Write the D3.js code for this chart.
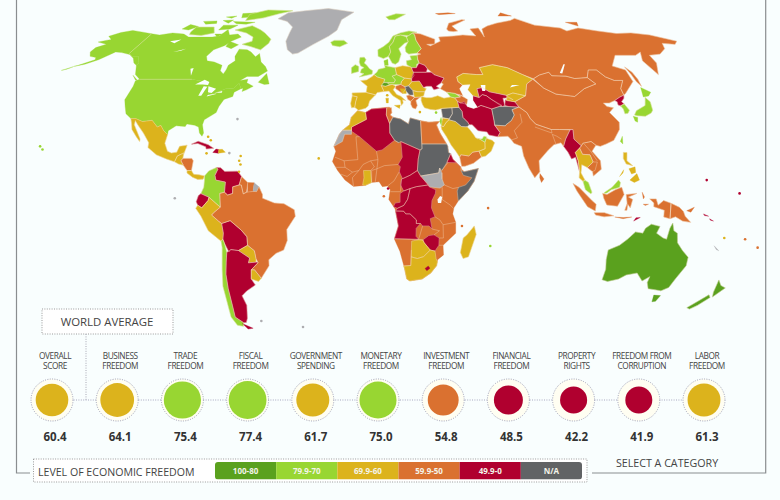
<!DOCTYPE html>
<html>
<head>
<meta charset="utf-8">
<script src="https://cdnjs.cloudflare.com/ajax/libs/d3/7.8.5/d3.min.js"></script>
<style>
html, body { margin: 0; padding: 0; background: #f9fefe; }
svg { display: block; font-family: "Open Sans", sans-serif; }
</style>
</head>
<body>
<svg id="chart" width="780" height="500"></svg>
<script>
// average scores
var categories = [["OVERALL","SCORE"],["BUSINESS","FREEDOM"],["TRADE","FREEDOM"],["FISCAL","FREEDOM"],["GOVERNMENT","SPENDING"],["MONETARY","FREEDOM"],["INVESTMENT","FREEDOM"],["FINANCIAL","FREEDOM"],["PROPERTY","RIGHTS"],["FREEDOM FROM","CORRUPTION"],["LABOR","FREEDOM"]];
var scores = [60.4,64.1,75.4,77.4,61.7,75.0,54.8,48.5,42.2,41.9,61.3];
var bandLabels = ["100-80","79.9-70","69.9-60","59.9-50","49.9-0","N/A"];
var bandColors = ["#5aa11e","#98d632","#dcb31c","#da7130","#b0002f","#616365","#adadb0"];
// robinson table
var robLat = [0,5,10,15,20,25,30,35,40,45,50,55,60,65,70,75,80,85,90];
var robLen = [1,.9986,.9954,.99,.9822,.973,.96,.9427,.9216,.8962,.8679,.835,.7986,.7597,.7186,.6732,.6213,.5722,.5322];
var robDep = [0,.062,.124,.186,.248,.31,.372,.434,.4958,.5571,.6176,.6769,.7346,.7903,.8435,.8936,.9394,.9761,1];

// map shapes: name, band index (0-4 score, 5 n/a, 6 no data), ring of lon/lat
var northAmerica = [
["Canada",1,[[-141,69.6],[-135,69],[-128,70],[-120,69.5],[-115,68],[-108,68],[-100,68],[-96,68.5],[-94,71.8],[-90,69],[-85,69.5],[-81.5,68],[-86,66],[-88,64],[-93,62],[-94.5,59],[-92.5,57],[-88,56.5],[-82.5,55],[-82,52.7],[-79.5,51.3],[-79,53],[-79,55],[-76.5,57],[-78,59],[-78,62.3],[-73,62],[-70,61],[-66,58.8],[-64.5,60.3],[-61.5,56.5],[-58,54.5],[-56,52.5],[-60,50.2],[-66,50.2],[-69,48.5],[-65,49],[-65,47.5],[-61,46],[-64,44.5],[-66,43.8],[-66,45.2],[-67,45],[-69,47.3],[-71,45.2],[-75,45],[-79,43.5],[-83,42],[-82.5,45.5],[-88,48],[-95,49],[-123,49],[-127,51],[-130,54.5],[-130.5,55],[-130.2,56],[-134,59],[-137.5,59],[-141,60.3]]],
["Alaska",1,[[-141,69.6],[-148,70.4],[-156.5,71.3],[-162,70.2],[-166.5,68.4],[-162,66.8],[-164,66.5],[-168,65.6],[-161,64.5],[-165,63],[-165,61],[-162,59],[-158,58.5],[-157,57.5],[-163,55],[-165,54.5],[-160,55.5],[-155,57.5],[-152,59.5],[-150,61],[-146,60.7],[-140,59.8],[-136,58.2],[-133,56],[-130.5,55],[-130.2,56],[-134,59],[-137.5,59],[-141,60.3]]],
["Aleutians",1,[[-165,54.4],[-169.5,52.8],[-167,53.4]]],
["USA",1,[[-123,49],[-95,49],[-88,48],[-84,46.5],[-82.5,45.5],[-83,42],[-79,43.5],[-75,45],[-71,45.2],[-69,47.3],[-67,45],[-70,43.5],[-70,41.7],[-74,40.5],[-75.5,37.5],[-76,35],[-81,32],[-81.3,30],[-80,26.5],[-80.5,25.2],[-82,26.5],[-83,29],[-85,29.7],[-89,30.3],[-89.5,29.2],[-94,29.5],[-97.3,27.5],[-97.2,25.9],[-99.5,27.5],[-101.5,29.7],[-103,29],[-106.5,31.8],[-111,31.3],[-114.8,32.5],[-117.2,32.5],[-120.5,34.5],[-122.5,37.5],[-124.3,40.3],[-124,46],[-124.7,48.3]]],
["Baffin",1,[[-80,73.7],[-72,71.5],[-68,70],[-62,67],[-62,65],[-65,62],[-72,63.5],[-78,64.5],[-73,66],[-74,68],[-80,70],[-89,71.5]]],
["Victoria",1,[[-117,73],[-105,73],[-101,70],[-108,68.8],[-116,69.2],[-117,70.5]]],
["Banks",1,[[-125,72],[-123,74.3],[-116,73.3],[-120,71.5]]],
["Ellesmere",1,[[-90,80],[-80,83],[-60,82.5],[-68,80.5],[-77,78],[-88,76.5]]],
["Devon",1,[[-96,76],[-80,75.5],[-85,74.5],[-92,74.7]]],
["Melville",1,[[-117,76],[-108,76.3],[-106,74.9],[-113,74.5]]],
["Axel Heiberg",1,[[-96,80.5],[-87,81],[-87,78.5],[-93,78]]],
["Somerset",1,[[-100,74],[-90,74],[-93,72],[-100,71.5]]],
["Ellef Ringnes",1,[[-105,78.5],[-98,79],[-100,77.8]]],
["Bathurst",1,[[-104,76.5],[-97,76.8],[-98,75]]],
["King William",1,[[-100,69.5],[-95,69.5],[-97,68]]],
["Southampton",1,[[-87,66],[-80,64.3],[-83,62.5],[-87,63.5]]],
["Newfoundland",1,[[-59,47.7],[-56,51.5],[-53,47],[-55.5,46.8]]],
["Vancouver",1,[[-128,50.7],[-123.5,48.4],[-125,48.7]]],
["Greenland",6,[[-66,77.5],[-62,81],[-50,82.5],[-33,84],[-20,82.5],[-12,81.5],[-20,77],[-21.5,71.4],[-26,68.5],[-34.4,64.5],[-42,60.5],[-45,60],[-49,62],[-52,66],[-52,70],[-52,73],[-58,76]]],
["Mexico",2,[[-117.2,32.5],[-114.8,32.5],[-111,31.3],[-106.5,31.8],[-103,29],[-101.5,29.7],[-99.5,27.5],[-97.2,25.9],[-97.8,22.3],[-96,19],[-94,18.2],[-91.5,18.6],[-90.5,21],[-87,21.5],[-88,18],[-89.2,17.8],[-91,17],[-92,14.6],[-96,15.8],[-101,17.5],[-105.5,20.5],[-105.5,22.5],[-109,26.5],[-112.8,30],[-114.7,31.7],[-114.5,30],[-110,24],[-110,23],[-112,25],[-115,28],[-116,30.5]]],
["Guatemala",2,[[-92,14.6],[-91,17],[-89.2,17.8],[-88,18.4],[-88.3,16],[-89,15],[-87.7,13.2],[-90,13.7]]],
["Honduras",3,[[-89,15],[-88.3,16],[-84,16],[-83.2,15],[-83.7,11],[-85.7,11],[-87.7,13.2]]],
["Panama",2,[[-83.7,11],[-82.5,9.4],[-80,9.2],[-77.4,8.7],[-78,7.4],[-80.5,7.3],[-83,8.2],[-85.7,10],[-85.7,11]]],
["Cuba",4,[[-85,21.9],[-82,23.1],[-77,21.7],[-74.2,20.2],[-77.7,19.9],[-78,20.8],[-82,22.2]]],
["Haiti",4,[[-74.4,18.5],[-73,19.9],[-71.7,19.7],[-71.7,18.1]]],
["Dominican Rep",2,[[-71.7,19.7],[-70,19.8],[-68.4,18.6],[-71.7,18.1]]]
];
var southAmerica = [
["Colombia",1,[[-77.4,8.7],[-75.5,10.8],[-72,12.2],[-71.3,11.5],[-72.5,9],[-72,7],[-67.5,6.2],[-67.8,2],[-70,1.5],[-69.8,-4.2],[-72,-2.5],[-75,-0.1],[-78.8,1.4],[-77.5,4],[-77.3,7]]],
["Venezuela",4,[[-72,12.2],[-70,12.1],[-68,10.6],[-62,10.7],[-60,8.5],[-61,5],[-64,4.2],[-64,1.5],[-66.3,0.8],[-67.8,2],[-67.5,6.2],[-72,7],[-72.5,9],[-71.3,11.5]]],
["Guyana",3,[[-60,8.5],[-57,6],[-57.5,2],[-59,1.3],[-60,5],[-61,5]]],
["Suriname",3,[[-57,6],[-54,5.9],[-54.5,2.3],[-57,2]]],
["French Guiana",6,[[-54,5.9],[-51.7,4.2],[-52.8,2.2],[-54.5,2.3]]],
["Ecuador",4,[[-78.8,1.4],[-75,-0.1],[-75.5,-1.5],[-78.5,-4.5],[-80.3,-3.4],[-81,-2],[-80,0.5]]],
["Peru",2,[[-81.3,-4.7],[-80.3,-3.4],[-78.5,-4.5],[-75.5,-1.5],[-75,-0.1],[-72,-2.5],[-69.8,-4.2],[-73,-6.5],[-74,-7.5],[-71,-9.9],[-69.5,-11],[-69,-15],[-69.5,-17.5],[-70.4,-18.3],[-76,-14],[-79,-8]]],
["Bolivia",4,[[-69.5,-11],[-65.4,-9.8],[-60.5,-13.7],[-58,-16.5],[-58,-20],[-62.6,-22.2],[-66.2,-21.8],[-67.2,-22.8],[-69,-19],[-69.5,-17.5],[-69,-15]]],
["Paraguay",2,[[-58,-20],[-55,-22.3],[-54.6,-25.5],[-54.8,-27],[-58.5,-27.3],[-57.6,-25.3],[-62.6,-22.2]]],
["Chile",1,[[-70.4,-18.3],[-69.5,-17.5],[-69,-19],[-68.3,-23],[-69.2,-27],[-70.4,-32],[-71,-38],[-71.5,-45],[-72.3,-50],[-69,-52.4],[-70,-54],[-73,-53.5],[-74.5,-50],[-73.5,-42],[-73.3,-37],[-71.7,-30],[-70.2,-21]]],
["Argentina",4,[[-66.2,-21.8],[-62.6,-22.2],[-57.6,-25.3],[-58.5,-27.3],[-54.8,-27],[-53.8,-27.2],[-57.6,-30.2],[-58.4,-34],[-57,-36.5],[-62,-39],[-65,-41],[-64,-45],[-66,-50.5],[-67.5,-52.3],[-69,-52.4],[-72.3,-50],[-71.5,-45],[-71,-38],[-70.4,-32],[-69.2,-27],[-68.3,-23]]],
["Tierra del Fuego",4,[[-70,-52.8],[-65,-54.8],[-68,-55.2]]],
["Uruguay",2,[[-58.4,-34],[-57.6,-30.2],[-56,-30.2],[-53.4,-33.7],[-55,-35]]],
["Brazil",3,[[-60,5],[-59,1.3],[-57.5,2],[-54.5,2.3],[-52.8,2.2],[-51.7,4.2],[-50,1],[-50,-0.5],[-44.5,-2.5],[-40,-2.8],[-35.2,-5.3],[-34.8,-8],[-39,-13.5],[-39,-18],[-41,-22],[-44.7,-23.3],[-48.5,-26],[-48.7,-28.5],[-53.4,-33.7],[-56,-30.2],[-57.6,-30.2],[-53.8,-27.2],[-54.6,-25.5],[-55,-22.3],[-58,-20],[-58,-16.5],[-60.5,-13.7],[-65.4,-9.8],[-69.5,-11],[-71,-9.9],[-74,-7.5],[-73,-6.5],[-69.8,-4.2],[-70,1.5],[-67.8,2],[-66.3,0.8],[-64,1.5],[-64,4.2],[-61,5]]]
];
var africa = [
["Africa rest",3,[[-5.9,35.8],[-2,35],[1,36.5],[10,37.3],[11,35],[10.2,34],[11.5,33.1],[15.3,32.3],[19,30.3],[20,32.8],[25,31.6],[29,31],[32.3,31.2],[34.2,31.3],[32.6,29.9],[34,26.5],[36,23],[37.3,21],[37.5,18.5],[39.5,15.5],[43,12.5],[43.3,11.5],[44.5,10.5],[51.2,11.8],[49,6.5],[46,2.5],[41.5,-1.7],[39.5,-4.5],[39,-7],[40.5,-10.5],[40.7,-15],[35,-20],[35.5,-24],[32.8,-26],[32.5,-28.5],[30,-31.5],[26,-34],[20,-34.8],[18.4,-34],[17,-29.5],[14.5,-22.5],[11.8,-17.5],[13.6,-12],[12,-5],[9,-1],[9.7,3],[8.5,4.6],[6,4.3],[4.5,6.3],[1,6],[-2,4.8],[-7.5,4.4],[-11.5,7],[-15,11],[-17.5,14.7],[-16,19],[-17,21],[-14.5,26],[-13,27.7],[-9.7,30],[-9,33]]],
["Algeria",4,[[-2,35],[1,36.5],[8.6,37],[8.3,34],[9.8,30.5],[9.8,26.5],[12,23.5],[6,19.5],[3.3,19],[-4.8,25],[-8.7,27.3],[-8.7,29],[-1.5,32.2]]],
["Morocco",2,[[-5.9,35.8],[-2,35],[-1.5,32.2],[-8.7,29],[-8.7,27.7],[-13,27.7],[-9.7,30],[-9,33]]],
["Western Sahara",6,[[-13,27.7],[-8.7,27.7],[-8.7,26],[-12,26],[-13,23],[-17,21],[-14.5,26]]],
["Tunisia",3,[[8.6,37],[11,37],[11,35],[10.2,34],[11.5,33.1],[9.8,30.5],[8.3,34]]],
["Libya",5,[[11.5,33.1],[15.3,32.3],[19,30.3],[20,32.8],[25,31.6],[25,20],[24,19.5],[15,23],[14,22.5],[12,23.5],[9.8,26.5],[9.8,30.5]]],
["Egypt",3,[[25,31.6],[29,31],[32.3,31.2],[34.2,31.3],[32.6,29.9],[34,26.5],[36.9,22],[25,22]]],
["Sudan",5,[[24,19.5],[25,20],[25,22],[36.9,22],[37.3,21],[37.5,18.5],[38.5,18],[36.5,14.3],[34,11],[33,12],[32.5,10],[28,9.3],[24,8.7],[22.5,11],[23,15.7]]],
["South Sudan",6,[[24,8.7],[28,9.3],[32.5,10],[33,12],[34,10],[34,7.5],[35,5],[33,3.7],[28,4.2],[27.5,5]]],
["Chad",4,[[15,23],[24,19.5],[23,15.7],[22.5,11],[19,9],[15.5,7.5],[14,10.5],[14.5,12.5],[13.5,13.5],[15.5,16.5]]],
["CAR",4,[[15,7.5],[19,9],[22.5,11],[24,8.7],[27.5,5],[22,4.3],[19,3.5],[16,2.5],[14.5,5]]],
["DR Congo",4,[[12.2,-5.8],[16,-5.9],[17,-7],[19,-7],[22,-9.5],[22,-11],[24,-11],[25,-12],[28,-12],[29.5,-13.3],[28.5,-9],[30.7,-8.2],[29,-4.5],[29.2,-1.5],[30.8,1.5],[31,3],[28,4.2],[27.5,5],[22,4.3],[19,3.5],[17.8,-1],[16,-3.5],[13,-4.7]]],
["Congo",4,[[11.2,-4],[13,-4.7],[16,-3.5],[17.8,-1],[19,3.5],[16,2.5],[14.3,1.5],[14.3,-2.2],[12,-2.5]]],
["Angola",4,[[11.8,-17.3],[13.6,-12],[12.2,-5.8],[16,-5.9],[17,-7],[19,-7],[22,-9.5],[22,-11],[24,-11],[22,-13],[22,-16.3],[23.3,-17.5],[18.5,-17.4]]],
["Zimbabwe",4,[[25.3,-17.8],[28,-16],[30.5,-15.7],[33,-17],[33,-20],[31.3,-22.4],[29,-22],[26,-19]]],
["Botswana",2,[[20,-18.3],[23.3,-17.7],[25.3,-17.8],[26,-19],[29,-22],[26,-24.7],[23,-25.5],[20,-24.8],[20,-22]]],
["South Africa",2,[[16.5,-28.6],[20,-28.4],[20,-24.8],[23,-25.5],[26,-24.7],[29,-22],[31.3,-22.4],[32,-25.5],[32.8,-26.9],[32.5,-28.5],[30,-31.5],[26,-34],[20,-34.8],[18.4,-34],[17,-29.5]]],
["Lesotho",4,[[27,-29.6],[28.5,-28.6],[29.4,-29.5],[28,-30.6]]],
["Madagascar",2,[[49.3,-12],[50.4,-15.5],[47.5,-24.8],[45,-25.5],[43.5,-23],[44.4,-17],[46,-15.8]]],
["Ghana",2,[[-3.2,5],[-2,4.8],[1,6],[0.5,11],[-2.8,11],[-2.6,8]]],
["Somalia",5,[[41.5,-1.7],[46,2.5],[49,6.5],[51.2,11.8],[44.5,10.5],[43,11],[44,9],[48,8],[45,5],[41.7,4],[41,2.5]]],
["Eritrea",4,[[36.5,14.3],[38.5,18],[39.5,15.5],[43,12.5],[41,14.2],[37,14.3]]]
];
var europe = [
["Norway",1,[[5,59],[8,58],[11,59],[12.5,61],[12,63.5],[14.5,65.5],[16.5,68.5],[20,69],[25,68.7],[28,70],[31,70.3],[26,71],[20,70],[15,68.5],[12,65.5],[8.5,63.5],[5,62]]],
["Sweden",1,[[11,59],[12.8,56],[14.5,55.5],[16.5,56.5],[18.5,60],[17.5,62.5],[21.5,65],[24,65.8],[23.5,68],[20,69],[16.5,68.5],[14.5,65.5],[12,63.5],[12.5,61]]],
["Finland",1,[[24,65.8],[21.5,63],[21.5,61],[23,60],[28,60.5],[31,62.5],[29,66.5],[29,69],[28,70],[25,68.7],[23.5,68]]],
["Baltics",1,[[23.5,59.2],[28,59.5],[27.5,57.5],[28,56],[26.5,55.5],[26,54],[23.5,54],[21,55.3],[21,57],[24,57.5]]],
["Denmark",1,[[8.2,57],[10.5,57.7],[10.5,55],[8.5,55]]],
["Iceland",1,[[-24,65.5],[-22,66.4],[-16,66.4],[-13.5,65],[-18,63.4],[-22.5,64]]],
["Svalbard",1,[[12,78.5],[20,80.3],[27,80],[18,77],[14,77]]],
["UK",1,[[-5.5,58.5],[-3,58.6],[-2,57.5],[-3,56],[-1.5,55],[0,53.5],[1.7,52.7],[1.4,51.2],[-2,50.6],[-5.5,50],[-3,51.4],[-5,51.8],[-4.5,53.3],[-3,54],[-5,54.8],[-5.8,56.5]]],
["Ireland",1,[[-10,54],[-8,55.3],[-6,54.5],[-6,52.3],[-9.8,51.5]]],
["France",2,[[-1.7,43.4],[-1.2,46],[-4.7,48.4],[-1.5,48.7],[1.5,50.2],[2.5,51],[4.2,50],[8.2,49],[7.5,47.6],[6.2,46.3],[7.5,43.8],[4,43.4],[3.1,42.4]]],
["Spain",2,[[-9,43.2],[-1.7,43.4],[3.1,42.4],[0,39.8],[-0.7,37.7],[-2,36.8],[-5.5,36],[-7.4,37.2],[-7,39.5],[-6.3,41.6],[-8.8,42]]],
["Portugal",2,[[-8.8,42],[-6.3,41.6],[-7,39.5],[-7.4,37.2],[-9,37],[-9.5,38.8]]],
["Germany",1,[[2.5,51],[4,52],[5,53.3],[7,53.6],[8.7,54],[8.5,55],[10.5,54.5],[14.2,54],[14.7,51],[12.2,50.3],[13.8,48.7],[13,47.5],[7.5,47.6],[8.2,49],[4.2,50]]],
["Austria",1,[[9.5,47.5],[13,47.5],[13.8,48.7],[12.2,50.3],[14.7,51],[18.8,49.5],[17,48],[16.5,46.8],[12,46.8],[10.4,46.7]]],
["Switzerland",0,[[6.2,46.3],[7.5,47.6],[9.5,47.5],[10.4,46.7],[8.5,46]]],
["Poland",2,[[14.2,54],[18.5,54.8],[23,54.3],[24,52],[24,50.5],[22.5,49.1],[18.8,49.5],[14.7,51]]],
["Hungary",2,[[16.5,46.8],[17,48],[18.8,49.5],[22.5,49.1],[22.5,48],[20.5,46.2],[18.5,45.8]]],
["Romania",2,[[20.5,46.2],[22.5,48],[26.5,48.2],[28.2,45.5],[29.6,45],[28.5,43.7],[25,43.7],[22.5,44.2]]],
["Bulgaria",2,[[22.5,44.2],[25,43.7],[28.5,43.7],[27.8,42],[26,41.5],[23,41.3]]],
["Belarus",4,[[23.5,54],[26,54],[28,56],[31,55],[32,53.5],[31,52],[24,52],[23.5,53]]],
["Ukraine",4,[[24,52],[31,52],[34,52],[35,51],[40,49.5],[38,47.5],[35,46],[36.5,45.2],[33.5,44.5],[32.5,46],[30,46],[28.2,45.5],[26.5,48.2],[22.5,48],[22.5,49.1]]],
["Italy",2,[[7.5,43.8],[6.2,46.3],[8.5,46],[12,46.8],[13.7,46],[12.3,44.5],[14,42.5],[16,41.8],[18.4,40],[16.8,40.3],[17,39],[16,38],[15.7,40],[12,42],[10,44]]],
["Sicily",2,[[12.5,38],[15.5,38.2],[15,36.7]]],
["Sardinia",2,[[8.3,41],[9.7,41],[9.5,39],[8.5,39]]],
["Croatia",3,[[13.7,46],[16.5,46.8],[18.5,45.8],[19,45],[17,43],[15,44.2],[13.7,45]]],
["Bosnia",2,[[15.8,45],[19,45],[19,43],[17,43]]],
["Serbia",5,[[18.5,45.8],[20.5,46.2],[22.5,44.2],[22.5,42.3],[20.5,42.3],[19,44]]],
["Albania",3,[[19,42],[20.5,42.3],[23,41.3],[21,39.7],[19.5,40.5]]],
["Greece",3,[[21,39.7],[23,41.3],[26,41.5],[23.5,40],[24,38],[23,36.5],[21.5,37],[20.8,38.5]]]
];
var asia = [
["Russia",3,[[28,70],[33,69.5],[41,67],[40,64.7],[35,64.5],[37,63.8],[44,66],[44,68],[54,68.5],[60,69],[68,68.5],[67,72],[73,72.5],[73,68],[75,72],[80,73.5],[88,75],[100,76.5],[105,77.7],[113,74],[128,72.5],[130,71],[140,72.5],[150,71],[160,69.7],[170,70],[180,69],[191,66],[187,64.5],[180,65],[177,62.5],[170,60],[163,59.5],[162,56],[156.7,51],[155.5,57],[160,61],[155,59.5],[143,59.5],[135.5,54.7],[141,53],[140,48],[132,43],[130.6,42.3],[131,45],[135,48.5],[130.5,48.5],[127,50],[125,53],[120.5,53],[117,49.7],[110,49.3],[106,50.3],[98.5,50.5],[98,52],[92,50.8],[87.8,49.2],[83,51],[76.5,54],[69,55.3],[61,54],[61.5,51],[58,51],[51,51.5],[47,50],[47,48],[49,46.5],[47,45],[48,42],[46,42.5],[44,43],[40,43.5],[37,45],[39,47],[38,47.5],[40,49.5],[35,51],[34,52],[32,53.5],[31,55],[28,56],[27.5,59.5],[30,60],[28,60.5],[31,62.5],[29,66.5],[29,69]]],
["Novaya Zemlya",3,[[52,71],[55,70.7],[58,71],[56,73.5],[68,76.8],[66,77],[55,75],[51.5,72]]],
["Severnaya",3,[[95,79],[105,79],[100,81]]],
["New Siberian",3,[[137,75.5],[145,75.5],[142,73.5]]],
["Sakhalin",3,[[142,54.3],[143.5,52],[143.5,49],[142.7,46],[141.8,48],[142,51]]],
["Franz Josef",3,[[50,80.5],[60,81],[65,80.5],[52,79.8]]],
["Kazakhstan",2,[[47,50],[51,51.5],[58,51],[61.5,51],[61,54],[69,55.3],[76.5,54],[83,51],[87.3,49],[83,47],[80,42],[74,43.2],[70.5,42.2],[66,43],[62,43.7],[59,45.5],[56,45],[56,41.3],[53,42],[51,44.5],[53,46.7],[49,46.5],[47,48]]],
["Mongolia",3,[[87.8,49.2],[92,50.8],[98,52],[98.5,50.5],[106,50.3],[110,49.3],[117,49.7],[119.5,47],[112,45],[105,41.7],[96,42.7],[91,45.2]]],
["China",3,[[73.5,39.5],[80,42],[83,47],[87.3,49],[91,45.2],[96,42.7],[105,41.7],[112,45],[119.5,47],[117,49.7],[120.5,53],[125,53],[127,50],[130.5,48.5],[135,48.5],[131,45],[130.6,42.3],[128,41.5],[124.3,40],[121,39],[118,39],[119,37.5],[122,37],[119,35],[122,31],[121,28],[117,23.5],[113,22],[110,21],[108,21.5],[106,23],[102,22.3],[101,21.2],[98,24],[98.5,28],[92,28],[88,28],[81,30.2],[79,32.5],[78,35],[74.9,37.3]]],
["South Asia",3,[[61.6,25],[66.5,25.2],[68,23.7],[69,22.3],[72.5,21],[73,17],[75,12],[77.5,8],[80,10.5],[80,15],[85,19.5],[88,21.7],[91.5,22.5],[92.5,21],[94,24],[97,27.8],[92,28],[88,28],[81,30.2],[79,32.5],[78,35],[74.9,37.3],[71,36.2],[71.5,34],[69.5,31.7],[66.5,30],[66,29.5],[61,29.8],[63,26.7]]],
["Sri Lanka",3,[[80,9.7],[81.8,7.5],[80.5,6],[79.8,8]]],
["Saudi Arabia",2,[[34.7,29.4],[36,29.2],[37.5,31],[39,32],[42,31.3],[44.7,29.2],[47.5,29],[48.5,28],[50,26],[51,24.5],[52.5,24.2],[55.2,22.7],[55,20],[52,19],[49,18.6],[47,17],[43.3,17.5],[42.7,16.5],[41,19],[39,21.5],[37,25],[35,28]]],
["Yemen",3,[[42.7,16.5],[43.3,17.5],[47,17],[49,18.6],[52,19],[53,16.6],[49,14],[45,12.8],[43.4,12.7]]],
["Oman",2,[[52,19],[55,20],[55.2,22.7],[56.2,24.8],[56.5,24.2],[58.7,23.5],[59.8,22.5],[57.8,19],[55,17],[53,16.6]]],
["UAE",1,[[51.5,24.2],[52.5,24.2],[55.2,22.7],[56.3,24.9],[55,25.2],[54,24.1]]],
["Iraq",5,[[39,32],[41,34.5],[41.2,37],[44.8,37.2],[46,35.5],[46,33],[48,31],[48.5,30],[47.5,29.2],[46.5,29.1],[44.7,29.2],[42,31.3]]],
["Syria",5,[[35.8,36.7],[36.7,36.8],[41.2,37],[41,34.5],[39,32.4],[36,33],[35.9,35]]],
["Jordan",2,[[35,29.5],[36,29.2],[37.5,31],[39,32],[38.8,32.4],[36,32.7],[35.5,31.5]]],
["Israel",1,[[34.3,31.3],[35.2,33],[35.5,31.5],[35,29.5]]],
["Turkey",2,[[26.2,40],[26.7,38.4],[27.5,37],[30.5,36.3],[33,36.1],[36,36.7],[41.2,37],[44.8,37.2],[44.5,39.7],[43.5,41.1],[41.5,41.5],[38,41],[35,42],[31.5,41.2],[29,41.2],[26.5,41.7]]],
["Georgia",1,[[40,43.5],[41.5,41.5],[43.5,41.1],[46.5,41.5],[44,43]]],
["Azerbaijan",3,[[43.5,41.1],[46.5,41.5],[46,42.5],[50,40.5],[49,38.5],[46,39],[44.5,39.7]]],
["Iran",4,[[44.5,39.7],[46,39],[48,39.5],[49,37.5],[52,36.7],[54,37.2],[56,38],[61,36.5],[61,31.5],[60.8,29.8],[63,26.7],[61.6,25],[57.5,25.7],[56.7,27],[52.5,27.5],[50,30],[48.5,30],[48,31],[46,33],[46,35.5],[44.8,37.2]]],
["Afghanistan",5,[[61,36.5],[65,37.5],[70,37.5],[74.5,37.2],[71,36.2],[71.5,34],[69.5,31.7],[66.5,30],[66,29.5],[61,29.8],[61,31.5]]],
["Turkmenistan",4,[[53,42],[52.5,40],[54,37.2],[56,38],[61,36.5],[65,37.5],[66.5,38],[62,40.5],[60,42],[58,42.5],[55.9,41.3]]],
["Uzbekistan",4,[[56,45],[56,41.3],[58,42.5],[60,42],[62,40.5],[66.5,37.5],[68,38],[68,41],[71,41.2],[73,40.3],[70,42.2],[66,43],[62,43.7],[59,45.5]]],
["Tajikistan",4,[[68,38],[70,37.5],[74.9,37.3],[73.5,39.5],[69,40.3]]],
["Kyrgyzstan",2,[[69.5,40],[73.5,39.5],[80,42],[74,43.2],[70.5,42.2]]],
["North Korea",4,[[124.3,40],[128,41.5],[130.6,42.3],[129.7,41],[127.5,39.5],[128.3,38.6],[126,37.8],[125,38.2],[125.3,39.5]]],
["South Korea",1,[[126,37.8],[128.3,38.6],[129.4,36],[128,34.7],[126.4,34.5],[126.7,36.5]]],
["Honshu",1,[[140.8,41.3],[142,39.5],[141,36],[139.5,34.8],[136,33.5],[132,33.7],[130.9,34],[132.8,35.8],[136,37],[138.5,38],[139.8,40]]],
["Hokkaido",1,[[140,41.5],[141.8,45.5],[145.4,43.5],[143,41.9]]],
["Kyushu",1,[[130,33.5],[132,33],[131,31],[130,31.5]]],
["Taiwan",1,[[121.5,25.2],[121,22],[120,23]]],
["Myanmar",4,[[92.5,21],[94,24],[97,27.8],[98.5,28],[98,24],[101,21.2],[100,20.3],[97.7,18.5],[98.5,15],[98.7,10.5],[97.5,16.5],[95.5,15.8],[94.3,18.5]]],
["Thailand",2,[[97.7,18.5],[100,20.3],[101,17.7],[104.5,17.5],[105.5,14.5],[102.5,12.2],[101,13],[100,13.4],[99.3,10],[101,6.9],[100,6.5],[98.3,8],[98.7,10.5],[98.5,15]]],
["Indochina",3,[[102,22.3],[106,23],[108,21.5],[105.7,19],[109,15],[109,11.5],[105,8.7],[104.8,10.5],[102.5,12.2],[105.5,14.5],[104.5,17.5],[101,17.7],[100,20.3],[101,21.2]]],
["Malaysia",1,[[100,6.5],[101,6.9],[102.5,6],[104,2],[103.5,1.3],[101,3]]],
["Borneo south",3,[[109,1.5],[111,1],[115,3],[118,4],[119,1],[116,-3.8],[111,-3.3],[109.5,-0.5]]],
["Borneo north",1,[[109.5,1.5],[111,1.7],[113,3],[117,4],[117.5,6],[116.7,7],[113.5,4],[110,2]]],
["Sumatra",3,[[95.3,5.6],[98,4],[104,-1.5],[106,-3],[105.7,-5.8],[102,-4],[97,2.5]]],
["Java",3,[[105.3,-6.5],[110,-6.5],[114.5,-7.8],[110,-8.2],[106,-7.5]]],
["Sulawesi",3,[[119.5,-5.5],[120.5,-2.7],[120,1],[125,1.5],[121,0],[123,-1],[122,-4.5],[120.8,-3],[120.5,-5.5]]],
["Sunda",3,[[115,-8.3],[119,-8.5],[123,-8.3],[119,-9]]],
["Timor",4,[[124,-10],[127,-8.5],[125,-8.6]]],
["West Papua",3,[[131,-0.8],[134,-0.8],[135,-3.4],[137.5,-1.5],[141,-2.6],[141,-9],[138,-8.3],[138,-5.5],[133,-4],[133,-2.5]]],
["Seram",3,[[128,-3],[130.5,-3],[129,-3.5]]],
["Halmahera",3,[[127.5,2],[128.5,0],[128,-0.8]]],
["Luzon",2,[[120.5,18.5],[122.2,18.4],[121.5,15],[124,13],[121,13.7],[120,16]]],
["Mindanao",2,[[122,7],[125.5,9.7],[126.5,7],[124,6]]],
["Visayas",2,[[122,11.7],[125,12.5],[125,10.2],[123,9.5]]],
["Palawan",2,[[117.3,8.5],[119.5,11.3],[119,10]]]
];
var oceania = [
["Australia",0,[[114,-22],[114,-26],[115,-30],[115,-34.3],[118,-35],[123,-34],[126,-32.3],[131,-31.5],[135,-34.8],[138,-33],[138,-35.5],[140,-38],[144,-38.5],[147,-38.9],[150,-37.5],[151,-34],[153.5,-28.5],[153,-25],[149.5,-22.2],[146.3,-19],[145.3,-15],[143.5,-14],[142.5,-10.8],[141.5,-13],[140.8,-17.5],[139,-17],[135.5,-15],[136.7,-12.2],[132.5,-11.3],[130,-13],[129,-15],[125.5,-14.5],[122.3,-17.5],[119,-20]]],
["Tasmania",0,[[144.7,-40.7],[148.3,-40.9],[147.7,-43.3],[146,-43.5]]],
["NZ north",0,[[172.8,-34.4],[175.5,-36.7],[178.5,-37.7],[175.3,-41.5],[174,-39.5]]],
["NZ south",0,[[172.7,-40.6],[174.3,-41.7],[171,-45],[168.5,-46.6],[166.5,-46],[170,-43]]],
["PNG",3,[[141,-2.6],[145,-4.3],[147,-6],[148,-8],[150.8,-10.5],[147,-10],[143.5,-8.2],[141,-9]]],
["New Britain",3,[[148.5,-5.7],[152,-4.2],[150.5,-6.3]]],
["Solomon A",4,[[156.5,-7],[159,-8],[157,-7.7]]],
["Solomon B",4,[[159.5,-9],[161.5,-10],[160,-9.6]]],
["New Caledonia",6,[[164,-20.2],[166.9,-22.3],[165.5,-21.8]]]
];
// lakes and inland seas, painted in the page colour
var waters = [
[[-92,46.8],[-88,48.8],[-85,47.8],[-85,46.5],[-88,46.8]],
[[-87.8,42],[-87,46],[-85,45.8],[-86.3,42]],
[[-84.5,46],[-80,45],[-81.5,43.2],[-83.5,43.5]],
[[-83.4,41.7],[-79,42.8],[-79,43],[-83,42.3]],
[[-79.7,43.3],[-76.3,44],[-76.3,43.3]],
[[-99,53.5],[-97.5,53.8],[-96.5,50.5]],
[[-124,66],[-118,66.8],[-120,65]],
[[-116,61],[-110,62.5],[-112,61.5]],
[[47,45],[49,46.5],[53,46.7],[51,44.5],[53,42],[52.5,40],[54,37.2],[52,36.7],[49,37.5],[50,40.5],[48,42]],
[[58.5,46.5],[61,46.5],[60,44],[58.5,44]],
[[73.5,45.5],[79,46.5],[75,46.5]],
[[103.8,51.7],[105,51.5],[109.8,55.5],[109,55.5]],
[[31.8,-1],[33,0.4],[34,0],[33.5,-2.5],[32,-2.5]]
];
// internal borders where neighbours share a colour
var borders = [
[[-141,69.6],[-141,60.3]],[[-123,49],[-95,49]],
[[-4.8,25],[-6.5,25],[-5.5,15.5],[-12,15],[-16.3,16.5]],
[[3.3,19],[4,15.5],[0.5,15],[-3,13.5],[-5,11],[-8,10.3],[-11.5,12.3],[-12,15]],
[[3.5,11.7],[7,13],[13.5,13.5]],[[4,15.5],[3.5,11.7]],[[12,23.5],[14,22.5]],
[[0.5,15],[2.3,12.5],[0.5,11]],[[1,6],[1,11],[3.5,11.7],[2.7,6.3]],
[[8.5,4.6],[11.5,6.7],[14,10.5]],[[-11.5,12.3],[-16.7,12.3]],[[-13.5,9.5],[-10.5,8.5],[-8,10.3]],
[[-7.5,4.4],[-8,8],[-5,11]],[[9.7,2.2],[14.3,2.2]],[[15,7.5],[14.5,2.2]],
[[41.7,4],[39,3.5],[35,5]],[[34,4],[34,0],[33.9,-1]],[[33.9,-1],[37.7,-3.3],[39.3,-4.7]],
[[40.5,-10.5],[34.6,-11.5]],[[33,-9.5],[34.6,-11.5],[35,-17]],[[29.5,-13.3],[33,-14],[30.5,-15.7]],
[[33,-17],[35,-17]],[[30.7,-8.2],[33,-9.5]],[[33,-20],[35,-20]],[[16.5,-28.6],[20,-28.4],[20,-22]],[[11.8,-17.3],[25.3,-17.8]],[[23.3,-17.5],[25,-12]],
[[74.5,34.5],[74.5,31],[70,27.5],[71,24.5],[68.2,23.7]],[[80.3,29],[88,26.5],[88,28]],[[88,26],[89,22]],[[92,24],[90,25.2],[88,26]],
[[102.5,22],[105,19],[107.5,15]],[[105.5,14.5],[107.5,14.5],[106,11],[104.5,10.5]],[[141,-2.6],[141,-9]],
[[37,14.3],[34,11]],[[34,7.5],[34,10]],[[43,11],[43,12.5]]
];
// tiny islands
var islands = [[-157,21,1],[-155.5,19.7,1],[-77.5,25,2],[-76,23.5,2],[-77.3,18.1,2],[-66.5,18.2,6],[-64.8,32.3,6],[-61,17,2],[-61.5,15,2],[-60.8,13.5,2],[-61.3,10.5,2],[-91,-0.5,6],[-59,-51.7,6],[-37,-54.3,6],[-24,16,2],[6.7,0.3,3],[8.7,3.5,4],[55.5,-4.6,3],[43.5,-12,3],[57.5,-20.3,1],[158,7,4],[173,1.5,4],[168,-17,2],[178,-17.5,3],[185,-21,3],[9.1,42.2,2],[33,35,1],[25,35.2,2]];

var svg = d3.select("#chart");
var x0 = 369.5, y0 = 197, kx = 2.14, ky = 194.5;

var lenAt = d3.scaleLinear().domain(robLat).range(robLen);
var depAt = d3.scaleLinear().domain(robLat).range(robDep);
var xMap = d3.scaleLinear().domain([0,1]).range([x0, x0 + kx]);
var yMap = d3.scaleLinear().domain([0,1]).range([y0, y0 - ky]);
var px = function(p){ return xMap(p[0] * lenAt(Math.abs(p[1]))); };
var py = function(p){ return yMap((p[1] < 0 ? -1 : 1) * depAt(Math.abs(p[1]))); };

var ringPath = d3.line().x(px).y(py).curve(d3.curveLinearClosed);
var linePath = d3.line().x(px).y(py);
var bandColor = d3.scaleOrdinal().domain(d3.range(7)).range(bandColors);

// frame
var frame = svg.append("g").attr("fill","none").attr("stroke","#8a8e90").attr("stroke-width",1.2);
frame.append("path").attr("d","M16.5,0V473H30");
frame.append("path").attr("d","M765.7,0V473H592");

// map
var shapes = [].concat(northAmerica, southAmerica, africa, asia, europe, oceania);
var map = svg.append("g");
map.selectAll("path.land").data(shapes).enter().append("path")
  .attr("class","land")
  .attr("d",function(d){ return ringPath(d[2]); })
  .attr("fill",function(d){ return bandColor(d[1]); })
  .attr("stroke",function(d){ return bandColor(d[1]); })
  .attr("stroke-width",0.3);
map.selectAll("path.water").data(waters).enter().append("path")
  .attr("class","water").attr("d",ringPath).attr("fill","#f9fefe");
// pale outline over shared borders
map.selectAll("path.edge").data(shapes.filter(function(d){ return d[2].length > 4 && ["Canada","USA","Alaska","Africa rest"].indexOf(d[0]) < 0; })).enter().append("path")
  .attr("class","edge")
  .attr("d",function(d){ return ringPath(d[2]); })
  .attr("fill","none").attr("stroke","#f7e3c8").attr("stroke-width",0.5).attr("stroke-opacity",0.7);
map.selectAll("path.border").data(borders).enter().append("path")
  .attr("class","border").attr("d",linePath)
  .attr("fill","none").attr("stroke","#f7e3c8").attr("stroke-width",0.5).attr("stroke-opacity",0.7);
map.selectAll("circle.isle").data(islands).enter().append("circle")
  .attr("class","isle")
  .attr("cx",px).attr("cy",py).attr("r",1.3)
  .attr("fill",function(d){ return bandColor(d[2]); });

// world average box
var dotted = "1 1.4";
svg.append("rect").attr("x",42).attr("y",309).attr("width",131).attr("height",25)
  .attr("fill","#fff").attr("stroke","#9a9a9a").attr("stroke-dasharray",dotted);
svg.append("text").attr("x",107).attr("y",326).attr("text-anchor","middle")
  .attr("font-size",11.4).attr("fill","#444").text("WORLD AVERAGE");

// category row
var xCat = d3.scaleLinear().domain([0,10]).range([52,704]);
var rScore = d3.scaleLinear().domain([41.9,77.4]).range([13.5,18.9]);
var bandOf = function(v){ return v >= 80 ? 0 : v >= 70 ? 1 : v >= 60 ? 2 : v >= 50 ? 3 : 4; };

svg.append("path").attr("d","M86,334V400").attr("fill","none").attr("stroke","#a8a8b4").attr("stroke-dasharray",dotted);
svg.append("path").attr("d","M"+xCat(0)+",400H"+xCat(10)).attr("fill","none").attr("stroke","#a8a8c0").attr("stroke-dasharray",dotted);

var cat = svg.selectAll("g.cat").data(scores).enter().append("g").attr("class","cat");
cat.append("circle").attr("cx",function(d,i){ return xCat(i); }).attr("cy",400).attr("r",21)
  .attr("fill","#fffef2").attr("stroke","#9c9cb4").attr("stroke-dasharray",dotted);
cat.append("circle").attr("cx",function(d,i){ return xCat(i); }).attr("cy",400)
  .attr("r",function(d){ return rScore(d); })
  .attr("fill",function(d){ return bandColor(bandOf(d)); });
cat.append("text").attr("x",function(d,i){ return xCat(i)+3; }).attr("y",441).attr("text-anchor","middle")
  .attr("font-size",11.5).attr("font-weight",700).attr("fill","#333").text(function(d){ return d.toFixed(1); });
cat.each(function(d,i){
  var g = d3.select(this);
  categories[i].forEach(function(t,j){
    g.append("text").attr("x",xCat(i)+3).attr("y",359+j*10).attr("text-anchor","middle")
      .attr("font-size",8.3).attr("letter-spacing","-0.4px").attr("fill","#444").text(t);
  });
});

// legend
svg.append("rect").attr("x",33.5).attr("y",459).attr("width",553.5).attr("height",23)
  .attr("fill","#fff").attr("stroke","#9a9a9a").attr("stroke-dasharray",dotted);
svg.append("text").attr("x",38).attr("y",475.5).attr("font-size",10.6).attr("fill","#444").text("LEVEL OF ECONOMIC FREEDOM");
svg.append("clipPath").attr("id","legendClip").append("rect")
  .attr("x",215).attr("y",462).attr("width",367).attr("height",17.5).attr("rx",3);
var xBand = d3.scaleBand().domain(bandLabels).range([215,582]);
var leg = svg.append("g").attr("clip-path","url(#legendClip)");
leg.selectAll("rect").data(bandLabels).enter().append("rect")
  .attr("x",function(d){ return xBand(d); }).attr("y",462)
  .attr("width",xBand.bandwidth()).attr("height",17.5)
  .attr("fill",function(d,i){ return bandColors[i]; });
svg.selectAll("text.band").data(bandLabels).enter().append("text").attr("class","band")
  .attr("x",function(d){ return xBand(d)+xBand.bandwidth()/2; }).attr("y",474)
  .attr("text-anchor","middle").attr("font-size",8).attr("font-weight",700).attr("fill","#f4f4ea").text(function(d){ return d; });
svg.append("text").attr("x",667).attr("y",467).attr("text-anchor","middle")
  .attr("font-size",10.7).attr("fill","#444").text("SELECT A CATEGORY");
</script>
</body>
</html>
